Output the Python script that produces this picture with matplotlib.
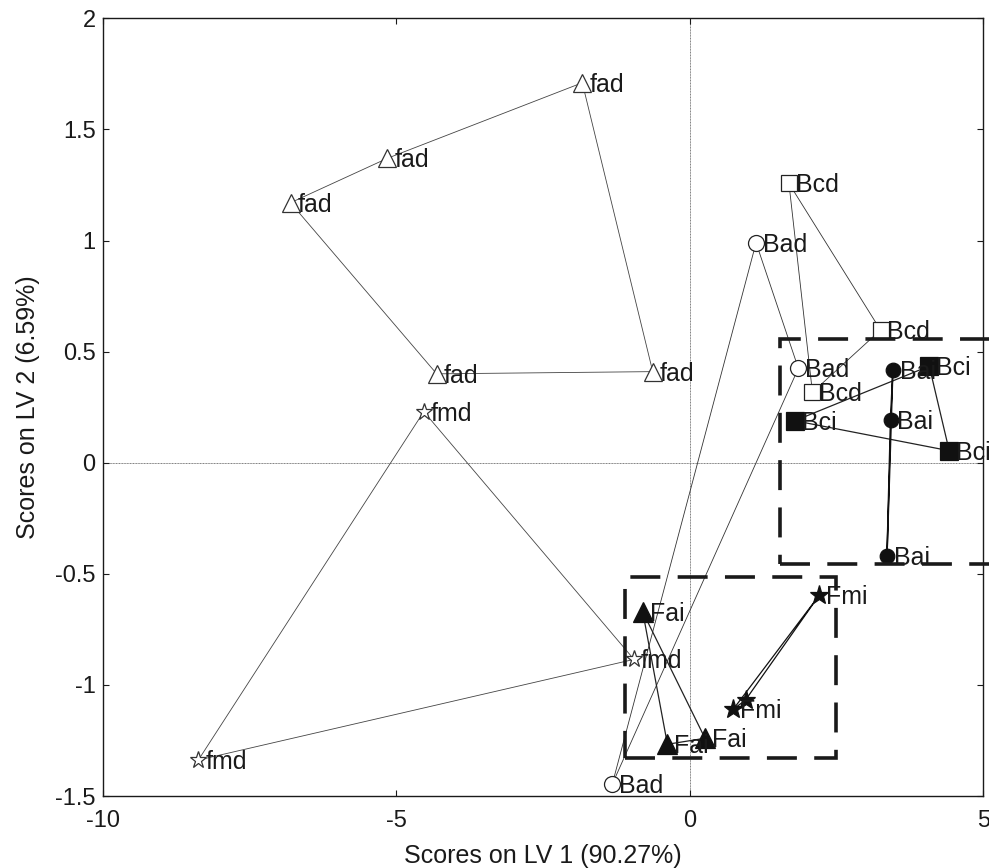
import matplotlib
matplotlib.use("Agg")
import matplotlib.pyplot as plt
from matplotlib.patches import Rectangle

plt.rcParams['font.family'] = ['Liberation Sans', 'DejaVu Sans']

# ---------------- data (scores on LV1 / LV2) ----------------
fad_x = [-6.80, -5.15, -1.83, -0.63, -4.31]
fad_y = [1.17, 1.37, 1.71, 0.41, 0.40]
fad_lab = ['fad', 'fad', 'fad', 'fad', 'fad']

fmd_x = [-4.53, -0.95, -8.37]
fmd_y = [0.23, -0.885, -1.338]
fmd_lab = ['fmd', 'fmd', 'fmd']

bad_x = [1.13, 1.85, -1.32]
bad_y = [0.99, 0.425, -1.447]
bad_lab = ['Bad', 'Bad', 'Bad']

bcd_x = [1.69, 3.25, 2.09]
bcd_y = [1.257, 0.597, 0.317]
bcd_lab = ['Bcd', 'Bcd', 'Bcd']

bci_x = [1.79, 4.08, 4.42]
bci_y = [0.189, 0.435, 0.054]
bci_lab = ['Bci', 'Bci', 'Bci']

bai_x = [3.46, 3.42, 3.36]
bai_y = [0.417, 0.192, -0.420]
bai_lab = ['Bai', 'Bai', 'Bai']

fai_x = [-0.80, -0.38, 0.26]
fai_y = [-0.671, -1.267, -1.240]
fai_lab = ['Fai', 'Fai', 'Fai']

fmi_x = [2.21, 0.95, 0.74]
fmi_y = [-0.595, -1.068, -1.110]
fmi_lab = ['Fmi', '', 'Fmi']

# dashed boxes: (x_left, y_bottom, x_right, y_top)
box1 = (1.53, -0.455, 5.3, 0.559)
box2 = (-1.10, -1.327, 2.50, -0.512)

x_ticks = [-10, -5, 0, 5]
y_ticks = [-1.5, -1, -0.5, 0, 0.5, 1, 1.5, 2]
y_tick_labels = ['-1.5', '-1', '-0.5', '0', '0.5', '1', '1.5', '2']
x_tick_labels = ['-10', '-5', '0', '5']

# ---------------- figure ----------------
fig = plt.figure(figsize=(9.89, 8.68), dpi=100)
ax = fig.add_axes([0.1038, 0.0829, 0.8904, 0.8960])
ax.set_xlim(-10, 5)
ax.set_ylim(-1.5, 2)

ax.axhline(0, color='#7a7a7a', lw=0.7, ls=(0, (1, 0.6)), zorder=1)
ax.axvline(0, color='#7a7a7a', lw=0.7, ls=(0, (1, 0.6)), zorder=1)

groups = [
    (fad_x, fad_y, fad_lab, '^', 13.5, 'white', '#333333', 0.6, '#444444'),
    (fmd_x, fmd_y, fmd_lab, '*', 12.5, 'white', '#333333', 0.6, '#444444'),
    (bad_x, bad_y, bad_lab, 'o', 11.5, 'white', '#222222', 0.6, '#333333'),
    (bcd_x, bcd_y, bcd_lab, 's', 12, 'white', '#222222', 0.6, '#333333'),
    (bci_x, bci_y, bci_lab, 's', 12.5, '#111111', '#111111', 0.9, '#222222'),
    (bai_x, bai_y, bai_lab, 'o', 10.5, '#111111', '#111111', 1.1, '#111111'),
    (fai_x, fai_y, fai_lab, '^', 14, '#111111', '#111111', 0.9, '#222222'),
    (fmi_x, fmi_y, fmi_lab, '*', 14, '#111111', '#111111', 0.9, '#111111'),
]

for xs, ys, labs, mk, ms, fc, ec, lw, lc in groups:
    cx = list(xs) + [xs[0]]
    cy = list(ys) + [ys[0]]
    ax.plot(cx, cy, color=lc, lw=lw, zorder=2)
    ax.plot(xs, ys, ls='none', marker=mk, ms=ms, mfc=fc, mec=ec, mew=0.9, zorder=3)
    for x, y, t in zip(xs, ys, labs):
        if t:
            ax.annotate(t, (x, y), xytext=(5.0, -1.5), textcoords='offset points',
                        ha='left', va='center', fontsize=18, color='#1a1a1a',
                        zorder=4, annotation_clip=False, clip_on=False)

for (x0, y0, x1, y1) in (box1, box2):
    r = Rectangle((x0, y0), x1 - x0, y1 - y0, fill=False, ec='#1a1a1a', lw=2.6,
                  ls=(0, (8.3, 4.8)), zorder=5, clip_on=False)
    ax.add_patch(r)

ax.set_xticks(x_ticks)
ax.set_xticklabels(x_tick_labels)
ax.set_yticks(y_ticks)
ax.set_yticklabels(y_tick_labels)
ax.tick_params(direction='in', length=4, width=0.8, top=True, right=True,
               labelsize=17, colors='#1a1a1a')
ax.tick_params(axis='x', pad=10)
ax.tick_params(axis='y', pad=5)
for s in ax.spines.values():
    s.set_linewidth(1.0)
    s.set_color('#1a1a1a')

ax.set_xlabel('Scores on LV 1 (90.27%)', fontsize=18, color='#1a1a1a', labelpad=9)
ax.set_ylabel('Scores on LV 2 (6.59%)', fontsize=18, color='#1a1a1a', labelpad=11)

fig.savefig('out.png', dpi=100)
